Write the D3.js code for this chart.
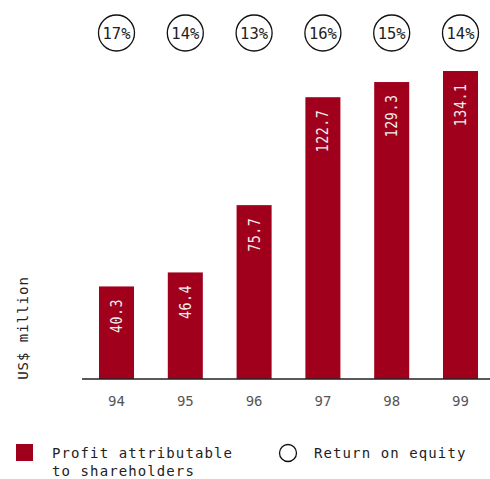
<!DOCTYPE html>
<html><head><meta charset="utf-8">
<script src="https://cdn.jsdelivr.net/npm/d3@7"></script>
<style>
html,body{margin:0;padding:0;background:#fff;}
svg{display:block;}
text{font-family:"DejaVu Sans Mono",monospace;}
</style></head>
<body><svg id="c" width="490" height="479"></svg>
<script>
const years = ["94","95","96","97","98","99"];
const profit = [40.3, 46.4, 75.7, 122.7, 129.3, 134.1];
const roe = [17, 14, 13, 16, 15, 14];
const yAxisLabel = "US$ million";
const legendLabels = ["Profit attributable", "to shareholders", "Return on equity"];

const svg = d3.select("#c");
const red = "#a0001c";
const x = d3.scaleBand().domain(years).range([82, 495]).paddingInner(0.491).paddingOuter(0.247);
const y = d3.scaleLinear().domain([0, 150]).range([379, 34.5]);

// bars
svg.selectAll("rect.bar").data(profit).enter().append("rect")
  .attr("x", (d,i) => x(years[i])).attr("width", x.bandwidth())
  .attr("y", d => y(d)).attr("height", d => y(0) - y(d))
  .attr("fill", red);

// bar labels
svg.selectAll("text.val").data(profit).enter().append("text")
  .attr("transform", (d,i) => `translate(${x(years[i]) + x.bandwidth()/2 + 5.5},${y(d) + 12.5}) rotate(-90) scale(0.86,1)`)
  .attr("text-anchor", "end")
  .attr("font-size", 15.5).attr("letter-spacing", 0.6)
  .attr("fill", "#eeeeee")
  .text(d => d.toFixed(1));

// axis
const ax = svg.append("g").attr("transform", `translate(0,${y(0)})`)
  .call(d3.axisBottom(x).tickSize(0).tickPadding(17));
ax.select(".domain").remove();
ax.selectAll("text").attr("font-size", 14).attr("fill", "#555").attr("font-family", "DejaVu Sans Mono, monospace");
svg.append("line").attr("x1", 82).attr("x2", 490).attr("y1", y(0)).attr("y2", y(0))
  .attr("stroke", "#222").attr("stroke-width", 1.5);

// ROE circles
const cg = svg.selectAll("g.roe").data(roe).enter().append("g")
  .attr("transform", (d,i) => `translate(${x(years[i]) + x.bandwidth()/2},33)`);
cg.append("circle").attr("r", 18).attr("fill", "none").attr("stroke", "#111").attr("stroke-width", 1.3);
cg.append("text").attr("text-anchor", "middle").attr("dy", "0.36em")
  .attr("font-size", 15.5).attr("fill", "#222").text(d => d + "%");

// y label
svg.append("text").attr("transform", "translate(28,328) rotate(-90)")
  .attr("text-anchor", "middle").attr("font-size", 14).attr("letter-spacing", 1)
  .attr("fill", "#222").text(yAxisLabel);

// legend
svg.append("rect").attr("x", 16).attr("y", 444).attr("width", 17).attr("height", 17).attr("fill", red);
svg.append("text").attr("x", 52).attr("y", 458).attr("font-size", 14).attr("letter-spacing", 1.1)
  .attr("fill", "#222").text(legendLabels[0]);
svg.append("text").attr("x", 52).attr("y", 476).attr("font-size", 14).attr("letter-spacing", 1.1)
  .attr("fill", "#222").text(legendLabels[1]);
svg.append("circle").attr("cx", 288).attr("cy", 453).attr("r", 8.5).attr("fill", "none").attr("stroke", "#111").attr("stroke-width", 1.3);
svg.append("text").attr("x", 314).attr("y", 458).attr("font-size", 14).attr("letter-spacing", 1.1)
  .attr("fill", "#222").text(legendLabels[2]);
</script></body></html>
